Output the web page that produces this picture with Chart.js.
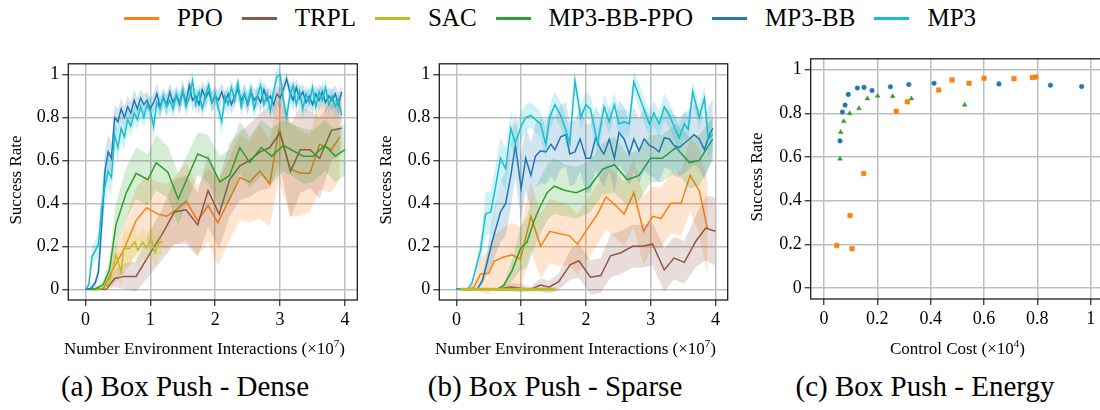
<!DOCTYPE html>
<html>
<head>
<meta charset="utf-8">
<title>Box Push</title>
<script src="https://cdn.jsdelivr.net/npm/chart.js@4.4.1/dist/chart.umd.min.js"></script>
<style>
  html, body { margin: 0; padding: 0; background: #fff; }
  body { position: relative; width: 1100px; height: 410px; overflow: hidden; font-family: "Liberation Serif", "Times New Roman", serif; color: #000; }
  canvas { position: absolute; }
  #legend { position: absolute; left: 0; top: 3px; width: 1100px; height: 30px; display: flex; justify-content: center; align-items: center; font-size: 25px; }
  .item { display: flex; align-items: center; margin: 0 9.5px; }
  .swatch { width: 35px; height: 3px; margin-right: 18px; }
  .xtitle { position: absolute; top: 338px; line-height: 22px; font-size: 17px; text-align: center; white-space: nowrap; }
  .xtitle sup { font-size: 11px; line-height: 0; vertical-align: 7px; }
  .ytitle { position: absolute; width: 200px; height: 20px; line-height: 20px; font-size: 17px; text-align: center; transform: rotate(-90deg); }
  .caption { position: absolute; top: 369px; width: 370px; line-height: 34px; font-size: 29px; text-align: center; white-space: nowrap; }
</style>
</head>
<body>
<div id="legend"></div>

<canvas id="dense" width="370" height="290" style="left:0;top:50px"></canvas>
<canvas id="sparse" width="370" height="290" style="left:370px;top:50px"></canvas>
<canvas id="energy" width="380" height="295" style="left:740px;top:45px"></canvas>

<div class="ytitle" style="left:-84.5px;top:170px">Success Rate</div>
<div class="ytitle" style="left:285.5px;top:170px">Success Rate</div>
<div class="ytitle" style="left:657px;top:167px">Success Rate</div>

<div class="xtitle" style="left:60px;width:289px">Number Environment Interactions (×10<sup>7</sup>)</div>
<div class="xtitle" style="left:431px;width:289px">Number Environment Interactions (×10<sup>7</sup>)</div>
<div class="xtitle" style="left:811px;width:293px">Control Cost (×10<sup>4</sup>)</div>

<div class="caption" style="left:0">(a) Box Push - Dense</div>
<div class="caption" style="left:370px">(b) Box Push - Sparse</div>
<div class="caption" style="left:740px">(c) Box Push - Energy</div>

<script>
const seriesNames = ['PPO', 'TRPL', 'SAC', 'MP3-BB-PPO', 'MP3-BB', 'MP3'];
const seriesColors = ['#ff7f0e', '#8c564b', '#bcbd22', '#2ca02c', '#1f77b4', '#17becf'];

const stepTicks = [0, 1, 2, 3, 4];
const rateTicks = [0, 0.2, 0.4, 0.6, 0.8, 1];
const costTicks = [0, 0.2, 0.4, 0.6, 0.8, 1];

// (a) dense reward: mean success rate and half width of the shaded band
const densePpoX = [0, .14, .27, .42, .60, .78, .94, 1.12, 1.25, 1.40, 1.55, 1.73, 1.89, 2.04, 2.22, 2.38, 2.53, 2.69, 2.84, 2.98, 3.16, 3.31, 3.46, 3.61, 3.79, 3.92];
const densePpoY = [0, 0, 0, .09, .19, .32, .38, .35, .34, .37, .41, .32, .39, .31, .42, .52, .50, .55, .49, .74, .56, .54, .54, .675, .65, .71];
const densePpoBand = [0, 0, 0, .07, .12, .15, .15, .15, .15, .16, .18, .16, .17, .2, .19, .2, .19, .22, .2, .23, .22, .2, .18, .21, .2, .2];

const denseTrplX = [0, .32, .45, .60, .78, .99, 1.19, 1.37, 1.55, 1.73, 1.89, 2.06, 2.22, 2.38, 2.53, 2.69, 2.84, 3.0, 3.16, 3.31, 3.46, 3.61, 3.79, 3.95];
const denseTrplY = [0, 0, .05, .06, .06, .165, .26, .36, .37, .30, .46, .35, .51, .575, .60, .64, .66, .73, .55, .65, .65, .61, .74, .75];
const denseTrplBand = [0, 0, .04, .06, .07, .1, .12, .15, .16, .15, .17, .16, .17, .16, .17, .18, .19, .15, .22, .2, .18, .19, .14, .12];

const denseSacX = [0, .22, .30, .37, .47, .55, .59, .68, .76, .81, .88, .94, 1.01, 1.07, 1.14, 1.19];
const denseSacY = [0, 0, .01, .03, .16, .08, .19, .19, .22, .18, .22, .19, .24, .17, .22, .22];
const denseSacBand = [0, 0, .01, .03, .06, .07, .08, .08, .07, .07, .07, .07, .06, .07, .06, .06];

const denseBbPpoX = [0, .14, .27, .37, .47, .63, .78, .96, 1.09, 1.27, 1.43, 1.73, 1.89, 2.07, 2.22, 2.38, 2.53, 2.71, 2.87, 3.05, 3.2, 3.36, 3.51, 3.69, 3.85, 4.0];
const denseBbPpoY = [0, 0, .02, .09, .30, .45, .54, .51, .59, .545, .42, .63, .61, .50, .53, .66, .59, .66, .62, .67, .645, .62, .62, .67, .62, .65];
const denseBbPpoBand = [0, .01, .02, .05, .1, .12, .12, .12, .13, .12, .12, .1, .11, .12, .12, .12, .12, .13, .13, .12, .12, .13, .12, .12, .12, .12];

const denseFineX = [
  0, .05, .1, .15, .2, .25, .3, .35, .4, .45,
  .5, .55, .6, .65, .7, .75, .8, .85, .9, .95,
  1.0, 1.05, 1.1, 1.15, 1.2, 1.25, 1.3, 1.35, 1.4, 1.45,
  1.5, 1.55, 1.6, 1.65, 1.7, 1.75, 1.8, 1.85, 1.9, 1.95,
  2.0, 2.05, 2.1, 2.15, 2.2, 2.25, 2.3, 2.35, 2.4, 2.45,
  2.5, 2.55, 2.6, 2.65, 2.7, 2.75, 2.8, 2.85, 2.9, 2.95,
  3.0, 3.05, 3.1, 3.15, 3.2, 3.25, 3.3, 3.35, 3.4, 3.45,
  3.5, 3.55, 3.6, 3.65, 3.7, 3.75, 3.8, 3.85, 3.9, 3.95
];
const denseBbY = [
  0, 0, .01, .03, .08, .30, .55, .64, .61, .80,
  .78, .84, .80, .85, .82, .88, .84, .89, .86, .88,
  .84, .87, .91, .85, .89, .86, .92, .87, .90, .86,
  .92, .87, .95, .88, .90, .86, .93, .89, .92, .87,
  .90, .88, .92, .87, .91, .86, .90, .93, .88, .91,
  .86, .92, .88, .90, .87, .93, .88, .90, .86, .91,
  .89, .93, .98, .92, .88, .94, .89, .92, .87, .90,
  .86, .91, .88, .92, .87, .90, .88, .91, .86, .92
];
const denseBbBand = [
  0, 0, .01, .02, .04, .08, .10, .08, .07, .06,
  .06, .05, .05, .05, .05, .05, .05, .04, .05, .04,
  .05, .04, .05, .05, .04, .05, .04, .05, .04, .05,
  .04, .05, .04, .05, .04, .05, .04, .05, .04, .05,
  .04, .05, .04, .05, .04, .05, .04, .05, .04, .05,
  .05, .04, .05, .04, .05, .04, .05, .04, .05, .04,
  .05, .04, .03, .04, .05, .04, .05, .04, .05, .04,
  .05, .04, .05, .04, .05, .04, .05, .04, .05, .04
];
const denseMp3Y = [
  0, .02, .15, .18, .21, .38, .48, .55, .52, .72,
  .66, .75, .71, .79, .76, .82, .79, .85, .80, .86,
  .83, .76, .87, .84, .90, .85, .88, .84, .91, .87,
  .93, .85, .89, .97, .86, .92, .84, .90, .95, .87,
  .91, .84, .78, .90, .86, .94, .88, .96, .85, .91,
  .87, .93, .84, .90, .95, .86, .91, .83, .92, .99,
  1.0, .88, .80, .90, .95, .86, .92, .84, .91, .87,
  .94, .85, .92, .88, .94, .86, .90, .85, .88, .81
];
const denseMp3Band = [
  0, .02, .05, .05, .06, .10, .10, .08, .08, .07,
  .07, .06, .06, .05, .05, .05, .05, .05, .05, .05,
  .05, .07, .05, .05, .04, .05, .05, .05, .04, .05,
  .05, .05, .04, .05, .05, .04, .05, .05, .04, .05,
  .04, .05, .06, .04, .05, .04, .05, .04, .05, .04,
  .05, .04, .05, .05, .04, .05, .04, .05, .04, .04,
  .03, .05, .06, .05, .04, .05, .04, .05, .04, .05,
  .04, .05, .04, .05, .04, .05, .04, .05, .05, .06
];

// (b) sparse reward
const sparsePpoX = [0, .17, .27, .37, .50, .58, .73, .86, .99, 1.15, 1.30, 1.44, 1.58, 1.74, 1.87, 2.02, 2.18, 2.31, 2.46, 2.59, 2.74, 2.89, 3.03, 3.16, 3.31, 3.47, 3.61, 3.75, 3.88];
const sparsePpoY = [0, 0, .01, .07, .075, .13, .15, .16, .14, .34, .20, .27, .26, .25, .21, .28, .35, .43, .39, .35, .45, .27, .34, .33, .40, .40, .53, .46, .28];
const sparsePpoBand = [0, 0, .02, .08, .1, .12, .14, .15, .15, .16, .15, .15, .15, .14, .14, .14, .14, .15, .15, .15, .16, .16, .14, .14, .14, .15, .17, .2, .22];

const sparseTrplX = [0, .55, .71, .84, .99, 1.15, 1.30, 1.43, 1.58, 1.76, 1.89, 2.07, 2.23, 2.38, 2.54, 2.72, 2.87, 3.03, 3.21, 3.36, 3.52, 3.70, 3.85, 4.0];
const sparseTrplY = [0, 0, .005, .01, .005, 0, .02, .01, .035, .115, .133, .056, .064, .156, .17, .20, .20, .21, .09, .145, .125, .225, .285, .27];
const sparseTrplBand = [0, 0, .01, .02, .02, .01, .03, .03, .04, .07, .08, .08, .08, .1, .1, .1, .1, .1, .1, .1, .1, .12, .15, .16];

const sparseSacX = [.06, .3, .6, .9, 1.2, 1.53];
const sparseSacY = [0, 0, 0, 0, 0, 0];
const sparseSacBand = [.006, .006, .006, .006, .006, .006];

const sparseBbPpoX = [0, .63, .73, .86, .99, 1.09, 1.20, 1.30, 1.40, 1.51, 1.68, 1.85, 2.05, 2.26, 2.44, 2.64, 2.82, 3.0, 3.18, 3.39, 3.60, 3.75, 3.96];
const sparseBbPpoY = [0, 0, .018, .087, .19, .22, .32, .39, .45, .48, .46, .45, .475, .56, .58, .51, .53, .61, .61, .66, .59, .60, .70];
const sparseBbPpoBand = [0, 0, .01, .05, .1, .12, .13, .13, .13, .13, .12, .12, .12, .12, .13, .12, .12, .11, .11, .11, .12, .12, .1];

const sparseBbX = [0, .32, .40, .47, .55, .68, .76, .84, .91, 1.0, 1.07, 1.15, 1.22, 1.30, 1.38, 1.46, 1.52, 1.61, 1.69, 1.75, 1.83, 1.91, 2.0, 2.07, 2.15, 2.23, 2.28, 2.36, 2.44, 2.51, 2.59, 2.67, 2.74, 2.82, 2.90, 2.98, 3.05, 3.13, 3.21, 3.29, 3.36, 3.44, 3.52, 3.60, 3.67, 3.75, 3.83, 3.89, 3.96];
const sparseBbY = [0, 0, .04, .12, .22, .36, .40, .53, .67, .47, .61, .53, .62, .645, .64, .675, .65, .71, .72, .63, .64, .70, .61, .61, .705, .65, .63, .70, .61, .73, .70, .63, .70, .645, .70, .67, .66, .64, .705, .70, .67, .66, .68, .70, .72, .70, .65, .705, .75];
const sparseBbBand = [0, 0, .02, .05, .1, .14, .15, .15, .15, .15, .15, .15, .15, .15, .15, .15, .15, .15, .15, .15, .15, .15, .16, .16, .15, .15, .15, .15, .16, .15, .15, .15, .15, .15, .15, .14, .14, .14, .14, .14, .14, .14, .14, .14, .14, .14, .14, .14, .14];

const sparseMp3X = [0, .17, .24, .37, .45, .53, .60, .68, .76, .84, .91, 1.0, 1.07, 1.15, 1.22, 1.30, 1.38, 1.44, 1.52, 1.61, 1.69, 1.75, 1.83, 1.92, 2.0, 2.07, 2.18, 2.28, 2.36, 2.44, 2.51, 2.59, 2.67, 2.74, 2.82, 2.90, 2.98, 3.05, 3.13, 3.21, 3.29, 3.36, 3.44, 3.52, 3.58, 3.65, 3.75, 3.83, 3.89, 3.96];
const sparseMp3Y = [0, 0, .03, .18, .35, .36, .47, .61, .56, .75, .68, .76, .80, .81, .79, .77, .675, .80, .86, .81, .74, .68, .97, .80, .86, .84, .68, .85, .78, .86, .77, .78, .77, .965, .90, .835, .77, .82, .77, .85, .81, .76, .705, .77, .745, .92, .80, .89, .70, .72];
const sparseMp3Band = [0, 0, .01, .05, .1, .1, .1, .1, .1, .08, .08, .07, .06, .06, .06, .06, .07, .06, .06, .06, .06, .06, .05, .06, .06, .06, .06, .06, .06, .06, .06, .06, .06, .05, .06, .06, .06, .06, .06, .06, .06, .06, .06, .06, .06, .05, .06, .06, .08, .08];

// (c) energy: success rate against control cost
const energyPpoX = [.0475, .0975, .105, .149, .271, .3125, .43, .48, .544, .60, .7125, .781, .794];
const energyPpoY = [.195, .332, .180, .525, .81, .853, .907, .953, .938, .961, .959, .964, .967];
const energyBbPpoX = [.06, .0625, .074, .096, .131, .1625, .201, .2575, .3275, .5275];
const energyBbPpoY = [.592, .714, .764, .80, .823, .868, .88, .878, .868, .839];
const energyBbX = [.06, .069, .079, .091, .125, .15, .18, .249, .318, .4125, .656, .849, .966];
const energyBbY = [.674, .806, .838, .887, .916, .919, .905, .922, .932, .938, .935, .929, .923];

// shared legend above the three panels
const legend = document.getElementById('legend');
seriesNames.forEach((name, k) => {
  const item = document.createElement('div');
  item.className = 'item';
  const swatch = document.createElement('span');
  swatch.className = 'swatch';
  swatch.style.background = seriesColors[k];
  item.append(swatch, name);
  legend.append(item);
});

function fade(hex, a) {
  const n = parseInt(hex.slice(1), 16);
  return `rgba(${n >> 16},${(n >> 8) & 255},${n & 255},${a})`;
}

// mean line plus a shaded band; later series are drawn on top unless raised
function curve(xs, ys, band, k, width = 1.5, raised = false) {
  const color = seriesColors[k];
  const rank = raised ? -2 : (seriesNames.length - k) * 2;
  const pts = sign => xs.map((x, i) => ({ x, y: ys[i] + sign * band[i] }));
  return [
    { data: pts(-1), borderWidth: 0, pointRadius: 0, fill: false, order: rank + 1 },
    { data: pts(1), borderWidth: 0, pointRadius: 0, fill: '-1', backgroundColor: fade(color, 0.2), order: rank + 1 },
    { data: pts(0), borderColor: color, borderWidth: width, pointRadius: 0, fill: false, order: rank }
  ];
}

function markers(xs, ys, k, style, radius) {
  return {
    data: xs.map((x, i) => ({ x, y: ys[i] })),
    pointStyle: style,
    pointRadius: radius,
    pointBackgroundColor: seriesColors[k],
    pointBorderColor: seriesColors[k],
    pointBorderWidth: 0.5
  };
}

// full box around the plotting area
const frame = {
  id: 'frame',
  afterDatasetsDraw(chart) {
    const { ctx, chartArea: a } = chart;
    ctx.save();
    ctx.strokeStyle = '#1e1e1e';
    ctx.lineWidth = 1.3;
    ctx.strokeRect(a.left, a.top, a.right - a.left, a.bottom - a.top);
    ctx.restore();
  }
};

function axis(min, max, values, fit) {
  return {
    type: 'linear',
    min, max,
    afterBuildTicks: a => { a.ticks = values.map(value => ({ value })); },
    afterFit: fit,
    ticks: {
      callback: v => String(v),
      color: '#000',
      font: { family: 'Liberation Serif', size: 18 },
      padding: 3,
      autoSkip: false,
      maxRotation: 0
    },
    grid: { color: '#bfbfbf', lineWidth: 1.5, tickColor: '#262626', tickWidth: 1.2, tickLength: 6 },
    border: { display: false }
  };
}

function panel(id, type, datasets, box, xMin, xMax, xTicks) {
  return new Chart(document.getElementById(id), {
    type,
    data: { datasets },
    options: {
      responsive: false,
      animation: false,
      events: [],
      layout: { padding: { top: box.top, right: box.right, bottom: 0, left: 0 } },
      plugins: { legend: { display: false }, tooltip: { enabled: false } },
      scales: {
        x: axis(xMin, xMax, xTicks, a => { a.height = box.bottom; }),
        y: axis(-0.05, 1.05, rateTicks, a => { a.width = box.left; })
      }
    },
    plugins: [frame]
  });
}

panel('dense', 'line', [
  ...curve(densePpoX, densePpoY, densePpoBand, 0),
  ...curve(denseTrplX, denseTrplY, denseTrplBand, 1),
  ...curve(denseSacX, denseSacY, denseSacBand, 2),
  ...curve(denseBbPpoX, denseBbPpoY, denseBbPpoBand, 3),
  ...curve(denseFineX, denseBbY, denseBbBand, 4),
  ...curve(denseFineX, denseMp3Y, denseMp3Band, 5)
], { top: 9.7, right: 12.7, bottom: 40, left: 68.3 }, -0.265, 4.19, stepTicks);

// SAC never leaves zero here; its flat line sits over the others
panel('sparse', 'line', [
  ...curve(sparsePpoX, sparsePpoY, sparsePpoBand, 0),
  ...curve(sparseTrplX, sparseTrplY, sparseTrplBand, 1),
  ...curve(sparseSacX, sparseSacY, sparseSacBand, 2, 3, true),
  ...curve(sparseBbPpoX, sparseBbPpoY, sparseBbPpoBand, 3),
  ...curve(sparseBbX, sparseBbY, sparseBbBand, 4),
  ...curve(sparseMp3X, sparseMp3Y, sparseMp3Band, 5)
], { top: 9.7, right: 12.3, bottom: 40, left: 69.3 }, -0.265, 4.19, stepTicks);

panel('energy', 'scatter', [
  markers(energyPpoX, energyPpoY, 0, 'rect', 3.2),
  markers(energyBbPpoX, energyBbPpoY, 3, 'triangle', 2.7),
  markers(energyBbX, energyBbY, 4, 'circle', 2.3)
], { top: 10.3, right: 16, bottom: 41, left: 70.7 }, -0.05, 1.05, costTicks);
</script>
</body>
</html>
